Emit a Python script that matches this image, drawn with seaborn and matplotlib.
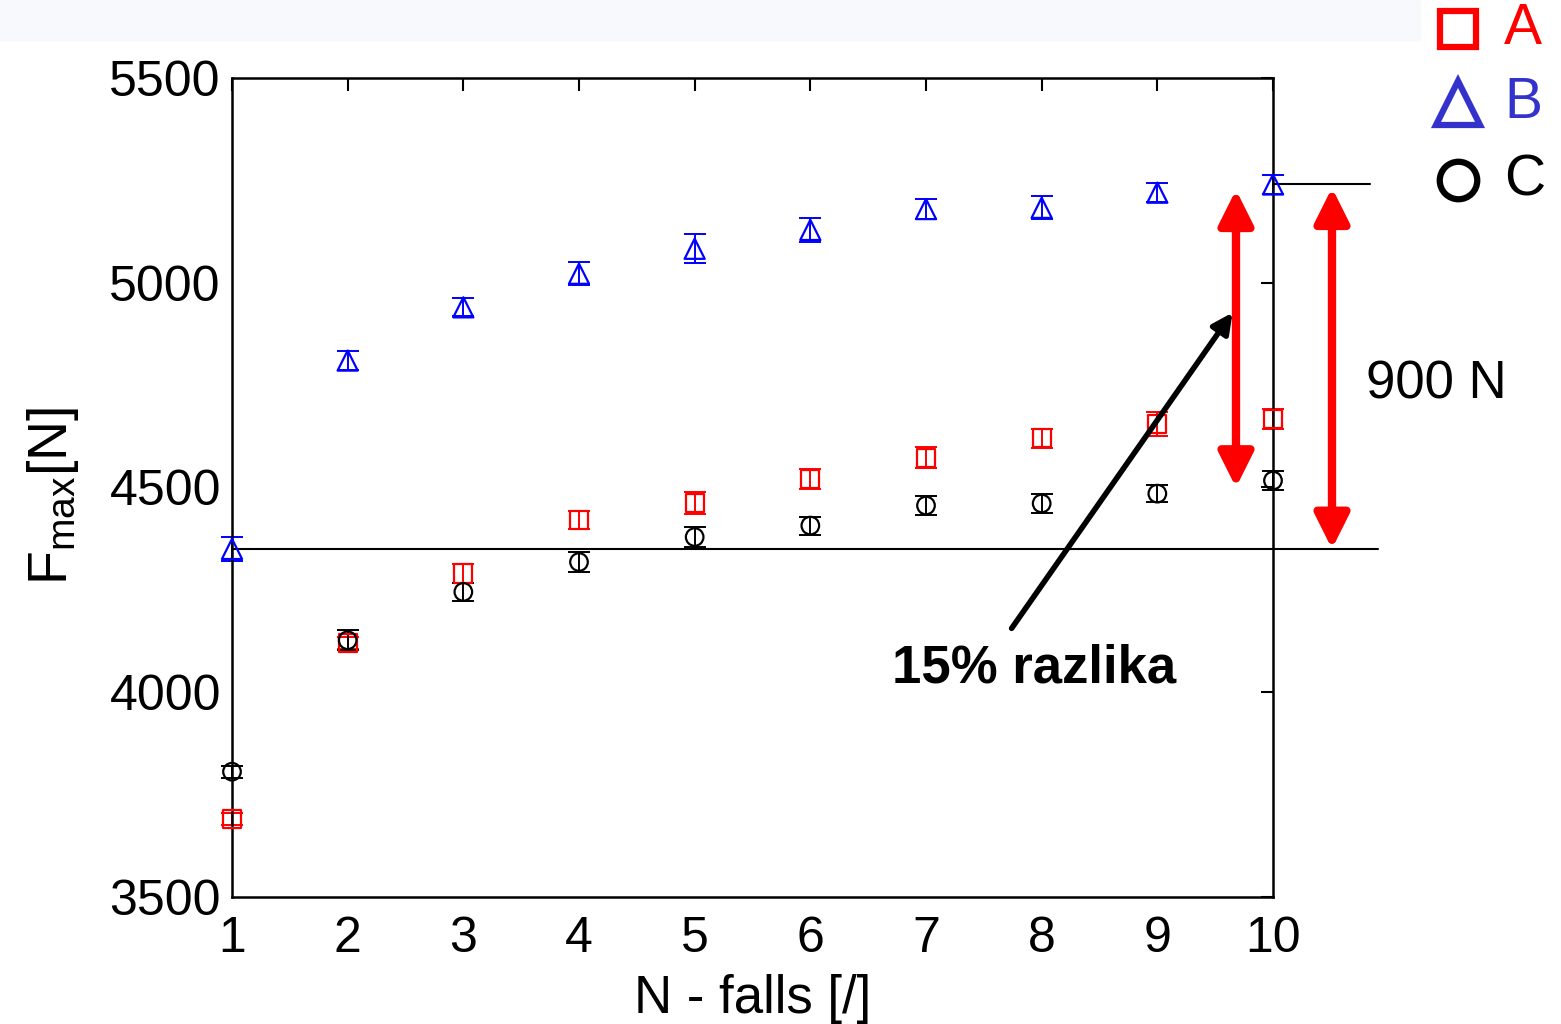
import numpy as np
import pandas as pd
import matplotlib
matplotlib.use('Agg')
import matplotlib.pyplot as plt
import seaborn as sns
from matplotlib.lines import Line2D
from matplotlib.patches import Rectangle

# Podaci (očitano sa slike)
falls = [1, 2, 3, 4, 5, 6, 7, 8, 9, 10]
A_mean = [3690, 4120, 4290, 4420, 4462, 4520, 4573, 4620, 4655, 4667]
A_err = [15, 15, 22, 22, 26, 24, 26, 24, 30, 24]
B_mean = [4350, 4810, 4940, 5022, 5083, 5129, 5180, 5183, 5220, 5240]
B_err = [30, 24, 22, 28, 35, 30, 24, 28, 24, 24]
C_mean = [3806, 4127, 4245, 4318, 4379, 4407, 4456, 4461, 4485, 4517]
C_err = [15, 24, 22, 24, 24, 22, 24, 24, 20, 24]

series_names = ["A", "B", "C"]
y_ticks = [3500, 4000, 4500, 5000, 5500]

df = pd.DataFrame({
    "N": falls * 3,
    "F": A_mean + B_mean + C_mean,
    "err": A_err + B_err + C_err,
    "grupa": ["A"] * 10 + ["B"] * 10 + ["C"] * 10,
})

colors = {"A": "#ff0000", "B": "#0000ff", "C": "#000000"}
markers = {"A": "s", "B": "^", "C": "o"}
sizes = {"A": 170, "B": 210, "C": 160}
legend_colors = {"A": "#ff0000", "B": "#3333cc", "C": "#000000"}

sns.set_style("white")
plt.rcParams['font.family'] = ['Liberation Sans', 'DejaVu Sans']
plt.rcParams['mathtext.fontset'] = 'custom'
plt.rcParams['mathtext.rm'] = 'Liberation Sans'
plt.rcParams['text.color'] = 'black'
plt.rcParams['axes.labelcolor'] = 'black'

fig = plt.figure(figsize=(15.61, 10.24), dpi=100)
fig.patches.append(Rectangle((0, 1 - 40 / 1024), 1420 / 1561, 40 / 1024,
                             transform=fig.transFigure, color='#f7f9fc', zorder=0))
ax = fig.add_axes([232 / 1561, 1 - 897 / 1024, 1041 / 1561, 819 / 1024])

for g in series_names:
    sub = df[df["grupa"] == g]
    cont = ax.errorbar(sub["N"], sub["F"], yerr=sub["err"], fmt='none',
                       ecolor=colors[g], elinewidth=1.4, capsize=8, capthick=1.4)
    for art in cont.lines[1] + cont.lines[2]:
        art.set_clip_on(False)
    sns.scatterplot(data=sub, x="N", y="F", marker=markers[g], s=sizes[g],
                    color=colors[g], facecolors='none', edgecolor=colors[g],
                    linewidth=1.6, ax=ax, clip_on=False, zorder=3)

ax.set_xlim(1, 10)
ax.set_ylim(3500, 5500)
ax.set_xticks(falls)
ax.set_yticks(y_ticks)
ax.tick_params(direction='in', length=9, width=1.5, top=True, right=True,
               labelsize=36, colors='black')
ax.tick_params(axis='x', pad=14)
ax.tick_params(axis='y', pad=8)
for sp in ax.spines.values():
    sp.set_linewidth(1.8)
    sp.set_color('black')

ax.set_xlabel("N - falls [/]", fontsize=38, labelpad=8)
ax.set_ylabel(r"$\mathregular{F_{max}[N]}$", fontsize=40)
ax.yaxis.set_label_coords(-0.145, 0.49)

# Referentne linije (prva i zadnja vrijednost B)
ax.plot([1, 10.91], [B_mean[0], B_mean[0]], color='black', lw=1.5, clip_on=False)
ax.plot([10, 10.84], [B_mean[-1], B_mean[-1]], color='black', lw=1.5, clip_on=False)

# Crvene dvostruke strelice
ax.annotate('', xy=(9.68, 5227), xytext=(9.68, 4500), annotation_clip=False,
            arrowprops=dict(arrowstyle='<|-|>', color='red', lw=6, mutation_scale=52,
                            shrinkA=0, shrinkB=0))
ax.annotate('', xy=(10.51, B_mean[-1] - 8), xytext=(10.51, B_mean[0]), annotation_clip=False,
            arrowprops=dict(arrowstyle='<|-|>', color='red', lw=6, mutation_scale=52,
                            shrinkA=0, shrinkB=0))
ax.text(10.80, 4717, "900 N", fontsize=38, ha='left', va='baseline', clip_on=False)

# Crna strelica i tekst
ax.annotate('', xy=(9.65, 4927), xytext=(7.74, 4156), annotation_clip=False,
            arrowprops=dict(arrowstyle='-|>', color='black', lw=4, mutation_scale=30,
                            shrinkA=0, shrinkB=0))
ax.text(7.93, 4024, "15% razlika", fontsize=38, fontweight='bold',
        ha='center', va='baseline', clip_on=False)

# Legenda izvan osi
legend_rows = {"A": 29, "B": 103, "C": 180}
legend_ms = {"A": 26, "B": 31, "C": 27}
for g in series_names:
    yy = 1 - legend_rows[g] / 1024
    fig.add_artist(Line2D([1458 / 1561], [yy], marker=markers[g], ms=legend_ms[g],
                          mfc='none', mec=legend_colors[g], mew=4.5, ls='none',
                          transform=fig.transFigure))
    fig.text(1504 / 1561, yy, g, fontsize=41, color=legend_colors[g],
             ha='left', va='center')

fig.savefig("out.png", dpi=100)
plt.close()
